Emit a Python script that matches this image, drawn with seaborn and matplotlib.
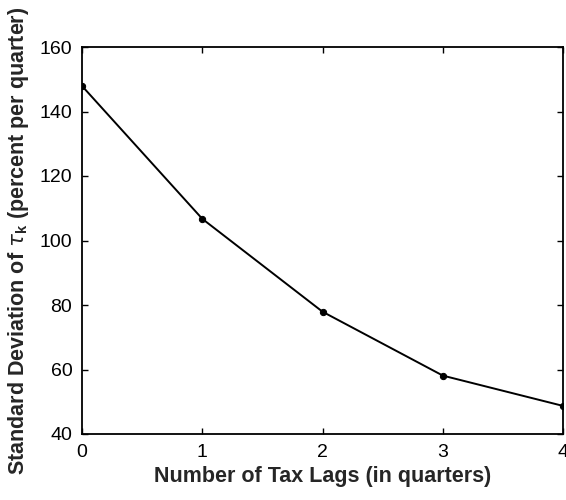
import matplotlib
matplotlib.use("Agg")
import matplotlib.pyplot as plt
import seaborn as sns
import pandas as pd

tax_lags = [0, 1, 2, 3, 4]
std_dev = [147.9, 106.7, 77.9, 58.1, 48.7]
x_ticks = [0, 1, 2, 3, 4]
y_ticks = [40, 60, 80, 100, 120, 140, 160]

sns.set_style("ticks")
plt.rcParams['font.family'] = ['Liberation Sans', 'DejaVu Sans']
plt.rcParams['mathtext.fontset'] = 'custom'
plt.rcParams['mathtext.rm'] = 'Liberation Sans'
plt.rcParams['mathtext.bf'] = 'Liberation Sans:bold'

df = pd.DataFrame({"lags": tax_lags, "sd": std_dev})

fig = plt.figure(figsize=(5.66, 5.0), dpi=100)
ax = fig.add_axes([0.145, 0.132, 0.85, 0.774])
sns.lineplot(data=df, x="lags", y="sd", ax=ax, color="black", linewidth=1.4,
             marker="o", markersize=4.5, markeredgecolor="black")

ax.set_xlim(0, 4)
ax.set_ylim(40, 160)
ax.set_xticks(x_ticks)
ax.set_yticks(y_ticks)
ax.tick_params(direction="in", top=True, right=True, length=4, width=1,
               labelsize=14, colors="black", pad=7)
for s in ax.spines.values():
    s.set_linewidth(1.3)
    s.set_color("black")

ax.set_xlabel("Number of Tax Lags (in quarters)", fontsize=15.5, fontweight="bold", labelpad=4)
ax.set_ylabel(r"Standard Deviation of $\tau_{\mathbf{k}}$ (percent per quarter)",
              fontsize=15.5, fontweight="bold", labelpad=6)

fig.savefig("out.png", dpi=100)
